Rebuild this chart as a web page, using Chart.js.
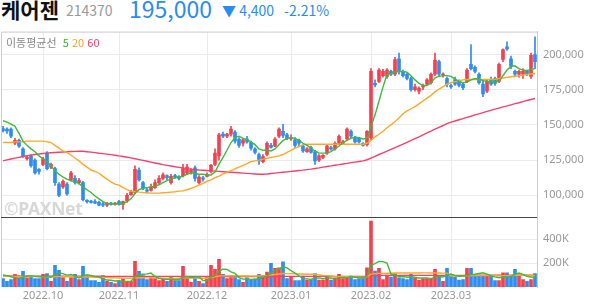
<!DOCTYPE html>
<html lang="ko">
<head>
<meta charset="UTF-8">
<title>케어젠 214370</title>
<script src="https://cdn.jsdelivr.net/npm/chart.js"></script>
<style>
    body {
        margin: 0;
        width: 594px;
        height: 304px;
        background: #fff;
        font-family: 'Noto Sans CJK KR', 'Noto Sans', sans-serif;
        position: relative;
        overflow: hidden;
    }
    .hd { position: absolute; white-space: nowrap; line-height: 1; }
    #name { left: 1px; top: -1px; font-size: 21px; font-weight: 700; color: #111; }
    #code { left: 66px; top: 3px; font-size: 14px; color: #999; }
    #price { left: 129px; top: -3px; font-size: 23px; color: #2a8cf0; }
    #change { left: 222px; top: 3px; font-size: 14px; color: #2a8cf0; }
    #change .pct { margin-left: 10px; }
    #maLegend { position: absolute; left: 6px; top: 34px; font-size: 11px; color: #888; }
    #watermark { position: absolute; left: 4px; top: 196px; font-size: 17.5px; font-weight: 700;
                 color: #d8d8d8; font-family: 'Noto Sans', sans-serif; letter-spacing: -0.3px; }
    #wrap { position: absolute; left: 0; top: 19px; width: 594px; height: 285px; }
</style>
</head>
<body>

<span class="hd" id="name">케어젠</span>
<span class="hd" id="code">214370</span>
<span class="hd" id="price">195,000</span>
<span class="hd" id="change">▼ 4,400<span class="pct">-2.21%</span></span>

<div id="wrap"><canvas id="chart" width="594" height="285"></canvas></div>

<div id="maLegend">이동평균선&nbsp;&nbsp;<span style="color:#2db52d">5</span> <span style="color:#ffa020">20</span> <span style="color:#f2416b">60</span></div>
<div id="watermark">©PAXNet</div>

<script>
    // 가격 데이터 (단위: 천원), 2022.09.19 ~ 2023.03.31
    const openK = [
        147.5,147,147,137,139,133,126,128,125,118.5,
        122,130,120,119,108,106,108,111,112,109,
        109,96.5,96,95.5,95,94,93,94.5,93.5,95.5,
        93.5,96,100.5,102,118,109,104,103.5,105.5,109,
        112,114,109,114,113.5,114,116,116.5,119.5,109,
        112.5,113.5,117,122,128,143.5,142,143.5,145,140,
        137,140,137.5,133,129,124,129,135.5,135,142,
        145.5,143,140,139.5,139,135,131,134,131,125,
        127,130,134,133,137,137,140,145.5,141,140.5,
        137,136,141,179.5,181,185,184.5,188,186,197,
        188,186,183,175,174,177,179,180,186,195,
        185.5,183,178,182,181,179,181,193,191,186,
        179,174,182,183,181,196.5,205.5,197,188,186,
        186,188,184.5,200
    ];
    const highK = [
        149,148,148,140.5,140,134,128,129,126,119,
        127,131,123,120,109,111,109,117,114,112,
        110,97,96.5,97,96,95,95,95,95,96.5,
        96,101.5,103.5,121,119.5,110,105,108,111,114,
        116,114.5,115,115,114,122,122,119,121,114,
        113.5,116,122,133,144,145,144,149,146,141,
        140,142,138.5,134,130,129,138,137,141,148,
        150.5,144,143,141,140,136,134,135,132,129,
        129,135.5,135,138,143,139,148,146.5,142,141,
        137.5,146,190,182,190,189.5,190,189,198,201,
        189,187,184,179,177,179,183,187,201,196,
        187,184,179,184,182,180,190,207,192,187,
        182,182,184,184,194,204,209,199,189,189,
        190,189,201,212.5
    ];
    const lowK = [
        145,144,141,136,134,127,125,120,115,115,
        121,118,119,107,99,105,100,110,108,108,
        96,94.5,94.5,94,92.5,92,92,93,93,93,
        90,95,100,101,110,104,101.5,103,105,108,
        111,111,108,112,111,113,115,115,110,108,
        110,113,116,121,125,141,141,142,137,134,
        135,137,132,129.5,122,123,128,133.5,134.5,141,
        141,139.5,139,134,135,130.5,130.5,130,122,124,
        126,129,132,132,136,136,139,141,137,137,
        135,135,139,177,180,184,183,185,185,186,
        184,182,174,174,172,175,178,179,185,185,
        184,177,176,178,177,175,180,189,187,179,
        170,173,178,178,180,195,203,190,185,184,
        183,185,183,190
    ];
    const closeK = [
        146,145.5,142,139,135,128,127,121,116,117,
        126,119,122,109,100,110,101,116,109,110.5,
        97,95.5,95,94.5,93,93,94.5,93.5,94.5,93.5,
        95.5,100,102.5,118.5,111,105,103,106,109,112,
        114.5,112.5,113.5,113,112,119,120,118,112,113,
        111.5,115,121.5,130,143,142,143.5,147,138.5,135.5,
        139.5,138,133.5,130.5,124.5,127.5,137,134,140,147,
        142.5,140.5,141,135.5,137,131.5,133,130.5,124.5,128,
        128.5,135,133,137,142,138,147,142,138,138,
        135.5,145.5,188,178.5,189,188,189,186,196.5,188,
        185,183,175,177,176,178,182,186,196,186,
        186,179,177,179,178,176.5,189,190,188,180,
        172,181,179,179.5,193,203.5,204,191.5,186,188,
        188,186,199.4,195
    ];
    // 이동평균선 (천원)
    const ma5K = [
        153,152,150.5,149,144,138.5,135.5,133,131,128,
        126,124,121,117.5,115,113,111.5,110.5,109.5,108.5,
        106,104,102,99.5,97.5,95.5,94,94,94,94,
        94,95.5,97.5,101.5,104,105,105.5,106,106.5,107.5,
        109,110.5,111.5,112.5,113,113.5,115,116,115.5,115,
        115,114.5,114.5,116.5,122,127,132,137.5,141,142,
        140.5,139.5,138,136,133,132,132,131.5,133,136,
        139,140.5,141,140.5,139,137,135.5,133.5,131.5,130,
        130,130,131,133,135,137.5,139,140.5,141.5,141,
        140,140.5,149,157,167,177,186,186.5,187.5,188,
        188,187.5,185,182,179.5,178,178,180,183.5,184.5,
        185,185,184.5,182.5,181,180,180.5,182,183,182.5,
        181.5,181,180.5,180.5,181,185,189,191.5,192,190,
        189,188.5,189.5,190
    ];
    const ma20K = [
        137.5,137.5,137.5,138,138,138,138.5,138.5,138.5,138.5,
        138.5,138,137.5,135.5,133.5,131.5,130.5,128.5,126.5,124.5,
        122,120,118,117,115.7,113.5,111.5,109.5,108,107.3,
        105.5,104,103,102.7,102.3,102,101.8,101.6,101.6,101.6,
        101.8,102,102.3,102.6,103,103.2,104,105,106,107.3,
        108.5,110,111,112.5,113.6,115,116.3,117.5,118.8,120,
        121.3,122.6,124,124.5,125,125.7,126.3,126.9,127.5,128,
        129,130.5,132,133.5,134.7,136,136.3,136.3,136.3,136.3,
        136.3,136.3,136.3,136.3,136.3,136.3,136.3,136.3,136.3,136.3,
        136.3,137,139,141.5,143.4,145.5,148,150,152.5,155,
        158,160,161.5,163,165,167,169,171,173.5,175.5,
        177,179,180,180.8,181.5,182,182.3,182.3,182.3,182.3,
        182.3,182.3,182.3,182.5,183,183.3,183.8,184.2,184.6,185,
        185.4,185.8,186.2,186.5
    ];
    const ma60K = [
        124.5,125.2,125.8,126.4,127,127.6,128.1,128.6,129,129.4,
        129.7,130,130.2,130.4,130.6,130.8,131,131.1,131.2,131.3,
        131.3,131,130.7,130.3,129.9,129.6,129.3,128.9,128.5,128,
        127.6,127.1,126.6,126,125.4,124.8,124.2,123.6,123,122.4,
        121.8,121.3,120.8,120.3,119.9,119.5,119,118.6,118.3,118,
        117.8,117.6,117.4,117.2,117,116.8,116.6,116.4,116.2,116,
        115.8,115.6,115.4,115.2,115,115,115.2,115.5,115.8,116.1,
        116.4,116.7,117,117.3,117.6,117.9,118.3,118.6,119.1,119.5,
        120,120.5,120.9,121.4,121.8,122.3,122.7,123.2,123.6,124,
        124.5,125.3,126.5,127.7,129,130.2,131.4,132.7,133.9,135.2,
        136.4,137.7,139,140.3,141.6,143,144.3,145.6,147,148.3,
        149.6,151,152,152.8,153.7,154.5,155.4,156.2,157.1,157.9,
        158.8,159.6,160.4,161.2,162,162.8,163.5,164.3,165.1,165.8,
        166.6,167.4,168.1,168.8
    ];
    // 거래량 (단위: 천주)
    const volK = [
        71,48,62,105,76,130,76,90,71,71,
        105,113,48,181,139,79,48,79,105,62,
        173,90,54,54,40,96,48,40,28,48,
        68,48,48,215,130,96,62,76,76,54,
        68,48,82,54,54,173,76,40,76,48,
        28,79,181,147,232,105,71,79,79,62,
        40,76,62,68,105,96,125,198,156,161,
        210,71,82,54,54,91,57,62,113,57,
        57,91,57,76,105,71,82,91,62,68,
        71,159,550,133,156,62,99,82,113,76,
        71,62,105,82,57,68,68,68,147,82,
        48,156,105,82,57,62,156,156,99,91,
        91,96,91,54,54,119,119,96,147,99,
        62,48,62,113
    ];
    const vma5K = [
        100,95,85,78,72,84,90,95,89,88,
        83,90,82,104,117,112,99,105,90,75,
        93,102,97,87,82,67,58,56,50,52,
        46,46,48,85,102,107,110,116,88,73,
        67,64,66,61,61,82,88,79,84,83,
        54,54,82,97,133,149,147,127,113,79,
        66,67,64,62,70,81,91,118,136,147,
        170,159,136,116,94,70,68,64,75,76,
        69,76,75,68,77,80,78,85,82,75,
        75,90,182,196,214,212,200,106,102,86,
        88,81,85,79,75,75,76,69,82,87,
        83,100,108,95,90,92,92,103,106,113,
        119,107,94,85,77,83,87,88,107,116,
        105,90,84,77
    ];
    const vma20K = [
        90,90,89,89,88,88,88,87,87,86,
        86,85,85,86,87,87,86,86,85,84,
        85,84,83,82,80,79,78,77,76,75,
        74,73,73,76,77,77,76,76,75,74,
        73,72,73,72,72,76,76,74,74,73,
        72,73,78,84,92,93,93,94,94,93,
        92,92,91,91,92,93,95,100,104,108,
        113,112,112,111,109,108,107,106,104,100,
        96,95,92,89,87,86,85,84,82,82,
        81,84,108,111,114,114,115,115,117,117,
        117,117,117,117,117,118,118,117,118,117,
        116,116,92,92,91,91,93,95,95,95,
        95,95,95,94,93,94,95,96,98,98,
        97,96,95,96
    ];
    const vma60K = [
        92,92,92,92,92,91,91,91,91,91,
        91,91,91,91,91,91,90,90,90,90,
        90,90,90,90,90,89,89,89,89,89,
        89,89,89,89,89,89,89,89,89,89,
        89,89,89,89,88,88,88,88,88,88,
        88,88,88,88,88,88,88,88,88,88,
        88,88,88,88,88,88,88,88,88,89,
        89,89,89,89,89,89,89,89,89,89,
        89,89,89,89,89,89,89,89,89,89,
        89,90,97,97,97,97,97,97,97,97,
        97,97,97,97,97,97,97,97,97,97,
        97,97,97,97,97,97,98,98,98,98,
        98,98,98,98,98,98,98,98,98,99,
        99,99,99,99
    ];

    // 월 시작 위치와 라벨
    const monthIdx = [10, 29, 51, 72, 92, 112];
    const monthLabels = ['2022.10', '2022.11', '2022.12', '2023.01', '2023.02', '2023.03'];
    const priceTicks = [100000, 125000, 150000, 175000, 200000];
    const volTicks = [200000, 400000];

    const UP = '#f5414f';
    const DOWN = '#2f8cf0';
    const won = a => a.map(v => v * 1000);

    const labels = openK.map((_, i) => i);
    const candleColor = openK.map((o, i) => closeK[i] >= o ? UP : DOWN);

    const tickFont = { family: "'Noto Sans', sans-serif", size: 11 };

    // 차트 테두리와 가격/거래량 구분선
    const framePlugin = {
        id: 'frame',
        afterDraw(chart) {
            const { ctx, chartArea: a } = chart;
            const sep = Math.round(chart.scales.yv.top) + 0.5;
            ctx.save();
            ctx.lineWidth = 1;
            ctx.strokeStyle = '#cccccc';
            ctx.beginPath();
            ctx.moveTo(a.left + 0.5, a.bottom);
            ctx.lineTo(a.left + 0.5, a.top + 0.5);
            ctx.lineTo(a.right, a.top + 0.5);
            ctx.stroke();
            ctx.strokeStyle = '#444444';
            ctx.beginPath();
            ctx.moveTo(a.left, sep);
            ctx.lineTo(a.right, sep);
            ctx.stroke();
            ctx.restore();
        }
    };

    const line = (data, color, axis) => ({
        type: 'line', data: won(data), yAxisID: axis,
        borderColor: color, borderWidth: 1.4, pointRadius: 0, tension: 0, order: 0
    });

    new Chart(document.getElementById('chart'), {
        type: 'bar',
        data: {
            labels: labels,
            datasets: [
                { // 꼬리
                    data: lowK.map((l, i) => [l * 1000, highK[i] * 1000]),
                    backgroundColor: candleColor, barThickness: 1, grouped: false,
                    yAxisID: 'y', order: 3
                },
                { // 몸통
                    data: openK.map((o, i) => [o * 1000, closeK[i] * 1000]),
                    backgroundColor: candleColor, barThickness: 3, minBarLength: 1, grouped: false,
                    yAxisID: 'y', order: 2
                },
                line(ma5K, '#3cbb3c', 'y'),
                line(ma20K, '#ffa726', 'y'),
                line(ma60K, '#f2416b', 'y'),
                { // 거래량
                    data: won(volK), backgroundColor: candleColor, barThickness: 3, grouped: false,
                    yAxisID: 'yv', order: 2
                },
                line(vma5K, '#3cbb3c', 'yv'),
                line(vma20K, '#ffa726', 'yv'),
                line(vma60K, '#f2416b', 'yv')
            ]
        },
        options: {
            responsive: false,
            animation: false,
            devicePixelRatio: 1,
            layout: { padding: { left: 1, top: 2, right: 0, bottom: 0 } },
            plugins: { legend: { display: false }, tooltip: { enabled: false } },
            scales: {
                x: {
                    type: 'category',
                    offset: true,
                    border: { display: false },
                    grid: {
                        offset: false, drawTicks: false,
                        color: c => monthIdx.includes(c.index) ? '#ebebeb' : 'rgba(0,0,0,0)'
                    },
                    ticks: {
                        autoSkip: false, maxRotation: 0, padding: 2, color: '#999', font: tickFont,
                        callback: (v, i) => {
                            const k = monthIdx.indexOf(i);
                            return k >= 0 ? monthLabels[k] : '';
                        }
                    },
                    afterFit: s => { s.height = 17; }
                },
                y: {
                    position: 'right', stack: 'panel', stackWeight: 186,
                    min: 84500, max: 216300,
                    afterBuildTicks: s => { s.ticks = priceTicks.map(v => ({ value: v })); },
                    border: { color: '#cccccc' },
                    grid: { color: '#ebebeb', drawTicks: false },
                    ticks: { padding: 6, color: '#999', font: tickFont,
                             callback: v => v.toLocaleString('en-US') },
                    afterFit: s => { s.width = 57; }
                },
                yv: {
                    position: 'right', stack: 'panel', stackWeight: 70,
                    min: 0, max: 583000,
                    afterBuildTicks: s => { s.ticks = volTicks.map(v => ({ value: v })); },
                    border: { color: '#cccccc' },
                    grid: { color: '#ebebeb', drawTicks: false },
                    ticks: { padding: 6, color: '#999', font: tickFont,
                             callback: v => (v / 1000) + 'K' },
                    afterFit: s => { s.width = 57; }
                }
            }
        },
        plugins: [framePlugin]
    });
</script>

</body>
</html>
